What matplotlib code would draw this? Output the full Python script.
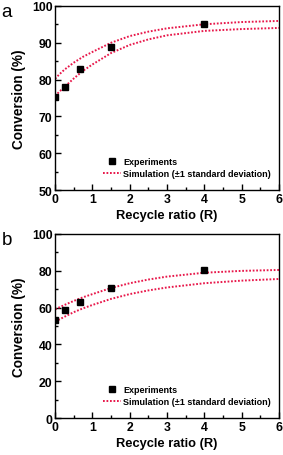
import matplotlib
matplotlib.use("Agg")
import matplotlib.pyplot as plt
from matplotlib.ticker import MultipleLocator

plt.rcParams['font.family'] = ['Liberation Sans', 'DejaVu Sans']

exp_x = [0, 0.25, 0.67, 1.5, 4]
a_exp_y = [75.2, 78.0, 82.9, 88.8, 95.2]
b_exp_y = [53.5, 58.5, 62.8, 70.5, 80.3]

sim_x = [0, 0.1, 0.25, 0.5, 0.75, 1, 1.5, 2, 2.5, 3, 4, 5, 6]
a_upper = [80.2, 81.3, 82.7, 84.6, 86.2, 87.5, 90.0, 91.8, 93.0, 93.9, 95.0, 95.6, 95.9]
a_lower = [75.5, 76.6, 78.0, 80.3, 82.4, 84.1, 87.2, 89.4, 90.9, 92.0, 93.2, 93.7, 94.0]
b_upper = [59.0, 60.0, 61.4, 63.6, 65.6, 67.3, 70.6, 73.2, 75.2, 76.8, 78.9, 79.9, 80.4]
b_lower = [52.3, 53.4, 55.0, 57.5, 59.6, 61.4, 64.7, 67.3, 69.3, 70.9, 73.2, 74.6, 75.5]

red = '#e8174a'
dots = (0, (0.9, 0.9))

fig = plt.figure(figsize=(2.83, 4.56), dpi=100)

def panel(rect, ey, up, lo, ylim, major, minor, letter):
    ax = fig.add_axes(rect)
    l1, = ax.plot(sim_x, up, linestyle=dots, color=red, lw=1.4)
    ax.plot(sim_x, lo, linestyle=dots, color=red, lw=1.4)
    m, = ax.plot(exp_x, ey, 's', color='black', ms=3.7, linestyle='none', zorder=5)
    ax.set_xlim(0, 6)
    ax.set_ylim(*ylim)
    ax.xaxis.set_major_locator(MultipleLocator(1))
    ax.xaxis.set_minor_locator(MultipleLocator(0.5))
    ax.yaxis.set_major_locator(MultipleLocator(major))
    ax.yaxis.set_minor_locator(MultipleLocator(minor))
    ax.tick_params(which='both', direction='in', top=False, right=False, width=1)
    ax.tick_params(which='major', length=4, labelsize=8.8, pad=2)
    ax.tick_params(which='minor', length=2)
    for lab in ax.get_xticklabels() + ax.get_yticklabels():
        lab.set_fontweight('bold')
    for s in ax.spines.values():
        s.set_linewidth(1.0)
    ax.set_xlabel('Recycle ratio (R)', fontsize=9.3, fontweight='bold', labelpad=3)
    ax.set_ylabel('Conversion (%)', fontsize=9.8, fontweight='bold', labelpad=4)
    ax.legend([m, l1], ['Experiments', 'Simulation (\u00b11 standard deviation)'],
              loc='lower right', bbox_to_anchor=(0.965, 0.065), frameon=False,
              prop={'size': 6.5, 'weight': 'bold'}, handlelength=2.0, handletextpad=0.3,
              labelspacing=0.3, borderaxespad=0, borderpad=0)
    fig.text(0.005, rect[1] + rect[3] + 0.006, letter, fontsize=13.5, va='top', ha='left')
    return ax

panel([0.195, 0.581, 0.791, 0.404], a_exp_y, a_upper, a_lower, (50, 100), 10, 5, 'a')
panel([0.195, 0.081, 0.791, 0.404], b_exp_y, b_upper, b_lower, (0, 100), 20, 10, 'b')

fig.savefig('out.png', dpi=100)
